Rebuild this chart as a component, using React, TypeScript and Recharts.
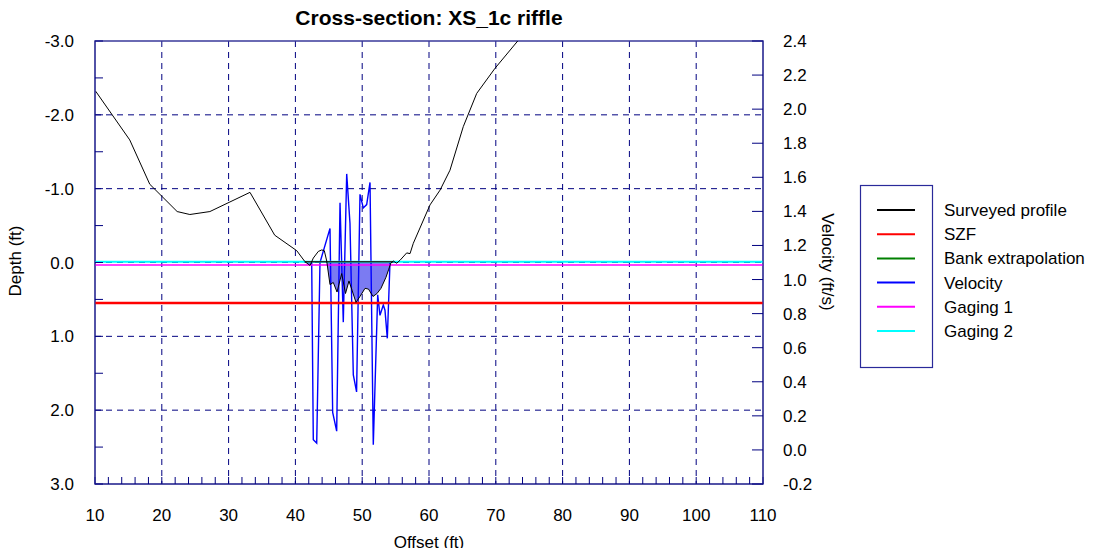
import React from 'react';
import {
  ComposedChart,
  XAxis,
  YAxis,
  CartesianGrid,
  Line,
  Area,
  ReferenceLine,
  ReferenceArea,
} from 'recharts';

// ---------- data ----------
const profileOffset = [
  10.1, 15.2, 18.2, 22.3, 24.2, 27.2, 30.2, 33.2, 36.9, 40.2, 41.44, 42.19, 42.68, 43.43, 43.94,
  44.33, 44.69, 45.18, 45.67, 46.23, 46.93, 47.5, 48.02, 49.07, 49.67, 50.42, 50.94, 51.62, 52.22,
  52.81, 53.56, 53.94, 54.27, 54.66, 55.16, 55.66, 56.66, 57.16, 57.65, 60.15, 61.65, 63.14, 65.13,
  67.14, 69.88, 73.28,
];
const profileDepth = [
  -2.32, -1.66, -1.06, -0.69, -0.65, -0.69, -0.82, -0.95, -0.37, -0.16, -0.01, 0.04, -0.06, -0.15,
  -0.17, -0.16, -0.02, 0.3, 0.27, 0.4, 0.15, 0.42, 0.25, 0.54, 0.46, 0.35, 0.36, 0.46, 0.42, 0.35,
  0.2, 0.1, 0.01, -0.02, 0.01, -0.03, -0.13, -0.12, -0.26, -0.78, -0.98, -1.25, -1.84, -2.29, -2.63,
  -3.0,
];

const velocityOffset = [
  42.44, 42.68, 43.19, 43.68, 45.18, 45.58, 46.18, 46.68, 47.17, 47.68, 48.17, 48.67, 49.16, 49.67,
  50.16, 50.67, 51.17, 51.66, 52.32, 52.66, 53.16, 53.41, 53.76, 54.16,
];
const velocityValue = [
  1.1, 0.06, 0.04, 1.1, 1.3, 0.22, 0.11, 1.45, 0.75, 1.62, 1.33, 0.44, 0.34, 1.5, 1.42, 1.44, 1.57,
  0.03, 0.91, 0.79, 0.85, 0.82, 0.655, 1.1,
];

const waterEdges = [41.44, 54.66];
const waterSurfaceDepth = -0.01;
const szfDepth = 0.55;
const gaging1Depth = 0.035;
const gaging2Depth = -0.01;

const offsetTicks = [
  10, 12, 14, 16, 18, 20, 22, 24, 26, 28, 30, 32, 34, 36, 38, 40, 42, 44, 46, 48, 50, 52, 54, 56, 58,
  60, 62, 64, 66, 68, 70, 72, 74, 76, 78, 80, 82, 84, 86, 88, 90, 92, 94, 96, 98, 100, 102, 104, 106,
  108, 110,
];
const depthTicks = [-3, -2.5, -2, -1.5, -1, -0.5, 0, 0.5, 1, 1.5, 2, 2.5, 3];
const velocityTicks = [-0.2, 0, 0.2, 0.4, 0.6, 0.8, 1.0, 1.2, 1.4, 1.6, 1.8, 2.0, 2.2, 2.4];
const gridOffsets = [20, 30, 40, 50, 60, 70, 80, 90, 100];
const gridDepths = [-2, -1, 0, 1, 2];

const legendNames = ['Surveyed profile', 'SZF', 'Bank extrapolation', 'Velocity', 'Gaging 1', 'Gaging 2'];
const legendColors = ['#000000', '#ff0000', '#008000', '#0000ff', '#ff00ff', '#00ffff'];

// ---------- derived tables ----------
const profileData = profileOffset.map((x, i) => ({ x, depth: profileDepth[i] }));
const fillData = profileData
  .filter((p) => p.x >= waterEdges[0] && p.x <= waterEdges[1])
  .map((p) => ({ x: p.x, range: [waterSurfaceDepth, Math.max(p.depth, waterSurfaceDepth)] }));
const surfaceData = waterEdges.map((x) => ({ x, depth: waterSurfaceDepth }));
const velocityData = velocityOffset.map((x, i) => ({ x, vel: velocityValue[i] }));

// ---------- styles ----------
const W = 1079;
const H = 540;
const FONT = '"Liberation Sans", Arial, sans-serif';
const NAVY = '#000080';
const FRAME = '#3a3a9a';
const tickStyle = { fill: '#000', fontSize: 17, fontFamily: FONT };

export default function App() {
  return (
    <div style={{ position: 'relative', width: W, height: H + 8, marginBottom: -8, fontFamily: FONT }}>
      <ComposedChart width={W} height={H} margin={{ top: 33, right: 264, bottom: 24, left: 27 }}>
        <CartesianGrid
          xAxisId="x"
          yAxisId="depth"
          verticalValues={gridOffsets}
          horizontalValues={gridDepths}
          stroke={NAVY}
          strokeDasharray="6 5"
        />
        <XAxis
          xAxisId="x"
          type="number"
          dataKey="x"
          domain={[10, 110]}
          ticks={offsetTicks}
          interval={0}
          allowDataOverflow
          height={40}
          tickSize={-7}
          tickMargin={32}
          tickLine={{ stroke: NAVY }}
          axisLine={{ stroke: FRAME }}
          tick={tickStyle}
          tickFormatter={(v: number) => (v % 10 === 0 ? String(v) : '')}
        />
        <YAxis
          yAxisId="depth"
          type="number"
          domain={[-3, 3]}
          reversed
          ticks={depthTicks}
          interval={0}
          allowDataOverflow
          width={60}
          tickSize={-8}
          tickMargin={29}
          tickLine={{ stroke: NAVY }}
          axisLine={{ stroke: FRAME }}
          tick={tickStyle}
          tickFormatter={(v: number) => (Number.isInteger(v) ? v.toFixed(1) : '')}
        />
        <YAxis
          yAxisId="vel"
          orientation="right"
          type="number"
          domain={[-0.2, 2.4]}
          ticks={velocityTicks}
          interval={0}
          allowDataOverflow
          width={60}
          tickSize={-11}
          tickMargin={31}
          tickLine={{ stroke: NAVY }}
          axisLine={{ stroke: FRAME }}
          tick={tickStyle}
          tickFormatter={(v: number) => v.toFixed(1)}
        />
        <Area
          xAxisId="x"
          yAxisId="depth"
          data={fillData}
          dataKey="range"
          type="linear"
          fill="#7b7bf2"
          fillOpacity={1}
          stroke="none"
          isAnimationActive={false}
        />
        <Line
          xAxisId="x"
          yAxisId="vel"
          data={velocityData}
          dataKey="vel"
          type="linear"
          stroke="#0000ff"
          strokeWidth={1.4}
          dot={false}
          isAnimationActive={false}
        />
        <ReferenceLine xAxisId="x" yAxisId="depth" y={gaging2Depth} stroke="#00ffff" strokeWidth={2} />
        <ReferenceLine xAxisId="x" yAxisId="depth" y={gaging1Depth} stroke="#ff00ff" strokeWidth={1.5} />
        <ReferenceLine xAxisId="x" yAxisId="depth" y={szfDepth} stroke="#ff0000" strokeWidth={2.5} />
        <Line
          xAxisId="x"
          yAxisId="depth"
          data={surfaceData}
          dataKey="depth"
          type="linear"
          stroke="#203828"
          strokeWidth={1.5}
          dot={false}
          isAnimationActive={false}
        />
        <Line
          xAxisId="x"
          yAxisId="depth"
          data={profileData}
          dataKey="depth"
          type="linear"
          stroke="#000000"
          strokeWidth={1}
          dot={false}
          isAnimationActive={false}
        />
        <ReferenceArea
          xAxisId="x"
          yAxisId="depth"
          x1={10}
          x2={110}
          y1={-3}
          y2={3}
          fill="none"
          fillOpacity={0}
          stroke={FRAME}
          strokeWidth={1.5}
        />
      </ComposedChart>

      <div
        style={{
          position: 'absolute',
          left: 121,
          top: -2,
          width: 600,
          lineHeight: '24px',
          fontSize: 21,
          fontWeight: 'bold',
          textAlign: 'center',
          color: '#000',
        }}
      >
        Cross-section: XS_1c riffle
      </div>
      <div
        style={{
          position: 'absolute',
          left: 321,
          top: 525,
          width: 200,
          lineHeight: '20px',
          fontSize: 17,
          textAlign: 'center',
          color: '#000',
        }}
      >
        Offset (ft)
      </div>
      <div
        style={{
          position: 'absolute',
          left: -52,
          top: 243,
          width: 120,
          height: 20,
          lineHeight: '20px',
          fontSize: 17,
          textAlign: 'center',
          transform: 'rotate(-90deg)',
          color: '#000',
        }}
      >
        Depth (ft)
      </div>
      <div
        style={{
          position: 'absolute',
          left: 749,
          top: 244,
          width: 140,
          height: 20,
          lineHeight: '20px',
          fontSize: 17,
          textAlign: 'center',
          transform: 'rotate(90deg)',
          color: '#000',
        }}
      >
        Velocity (ft/s)
      </div>

      <svg
        width={W}
        height={H}
        style={{ position: 'absolute', left: 0, top: 0, pointerEvents: 'none', overflow: 'visible' }}
      >
        <rect x={852.5} y={177.5} width={72} height={182} fill="#fff" stroke="#2a2a9a" strokeWidth={1.2} />
        {legendNames.map((name, i) => {
          const y = 202 + i * 24.2;
          return (
            <g key={name}>
              <line x1={869} x2={907} y1={y} y2={y} stroke={legendColors[i]} strokeWidth={2} />
              <text x={936} y={y} dy="0.35em" fontSize={17} fontFamily={FONT} fill="#000">
                {name}
              </text>
            </g>
          );
        })}
      </svg>
    </div>
  );
}
